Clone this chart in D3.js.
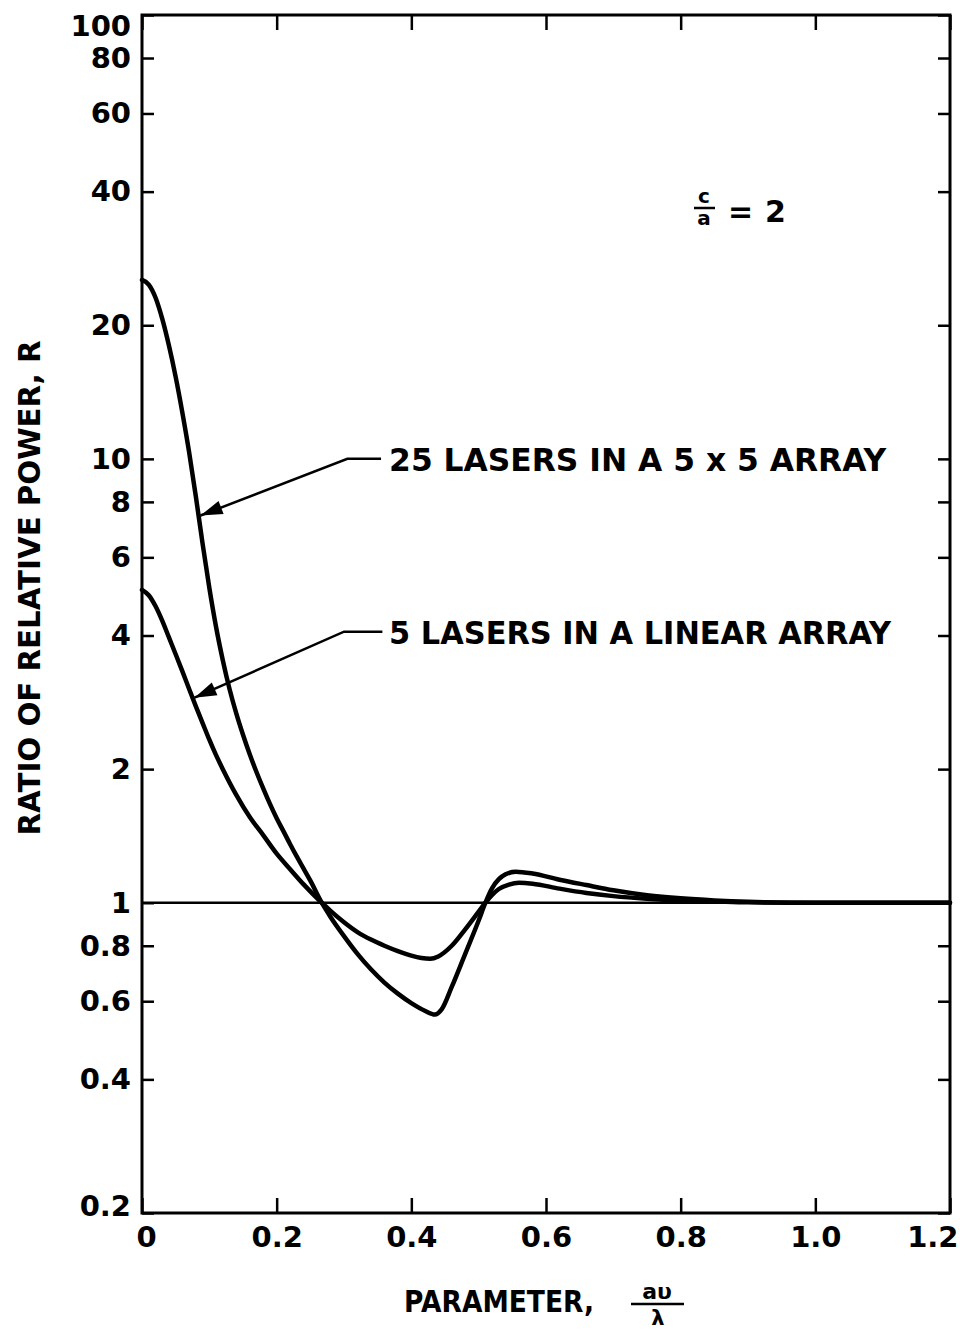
<!DOCTYPE html>
<html><head><meta charset="utf-8">
<script src="https://cdn.jsdelivr.net/npm/d3@7"></script>
<style>body{margin:0;background:#fff}text{font-family:"DejaVu Sans",sans-serif;font-weight:bold;fill:#000}</style>
</head><body>
<svg id="c" width="960" height="1333"></svg>
<script>
// ---- data ----
const xTicks = [0, 0.2, 0.4, 0.6, 0.8, 1.0, 1.2];
const xTickLabels = ["0", "0.2", "0.4", "0.6", "0.8", "1.0", "1.2"];
const yTicks = [0.2, 0.4, 0.6, 0.8, 1, 2, 4, 6, 8, 10, 20, 40, 60, 80, 100];
const yTickLabels = ["0.2", "0.4", "0.6", "0.8", "1", "2", "4", "6", "8", "10", "20", "40", "60", "80", "100"];

// 25 lasers in a 5 x 5 array
const x25 = [0, 0.01, 0.02, 0.03, 0.04, 0.05, 0.06, 0.07, 0.08, 0.09, 0.10, 0.11, 0.12, 0.13, 0.14, 0.15, 0.16, 0.17, 0.18, 0.19, 0.20, 0.21, 0.22, 0.23, 0.24, 0.25, 0.267, 0.28, 0.30, 0.32, 0.34, 0.36, 0.38, 0.40, 0.42, 0.435, 0.445, 0.46, 0.48, 0.50, 0.51, 0.52, 0.53, 0.54, 0.555, 0.58, 0.62, 0.66, 0.70, 0.75, 0.80, 0.85, 0.90, 1.0, 1.2];
const r25 = [25.3, 24.7, 23.1, 20.7, 18.0, 15.3, 12.7, 10.35, 8.22, 6.44, 5.12, 4.18, 3.52, 3.03, 2.67, 2.39, 2.16, 1.97, 1.81, 1.67, 1.55, 1.45, 1.355, 1.27, 1.194, 1.122, 1.0, 0.929, 0.841, 0.767, 0.708, 0.661, 0.624, 0.594, 0.571, 0.560, 0.575, 0.646, 0.767, 0.912, 1.0, 1.079, 1.130, 1.159, 1.175, 1.164, 1.127, 1.096, 1.067, 1.040, 1.023, 1.012, 1.005, 1.0, 1.0];

// 5 lasers in a linear array
const x5 = [0, 0.01, 0.02, 0.03, 0.04, 0.05, 0.06, 0.07, 0.08, 0.09, 0.10, 0.11, 0.12, 0.14, 0.16, 0.18, 0.20, 0.22, 0.24, 0.267, 0.28, 0.30, 0.32, 0.34, 0.36, 0.38, 0.40, 0.415, 0.428, 0.44, 0.46, 0.48, 0.50, 0.51, 0.52, 0.53, 0.545, 0.56, 0.58, 0.62, 0.66, 0.70, 0.75, 0.80, 0.85, 0.90, 1.0, 1.2];
const r5 = [5.07, 4.93, 4.66, 4.32, 3.96, 3.63, 3.32, 3.03, 2.77, 2.54, 2.33, 2.15, 2.0, 1.75, 1.56, 1.42, 1.29, 1.19, 1.10, 1.0, 0.959, 0.904, 0.859, 0.826, 0.800, 0.778, 0.760, 0.751, 0.748, 0.757, 0.800, 0.871, 0.955, 1.0, 1.042, 1.074, 1.099, 1.109, 1.104, 1.076, 1.052, 1.035, 1.021, 1.012, 1.007, 1.002, 1.0, 1.0];

const seriesNames = ["25 LASERS IN A 5 x 5 ARRAY", "5 LASERS IN A LINEAR ARRAY"];
const yTitle = "RATIO OF RELATIVE POWER, R";
const xTitle = "PARAMETER,";

// ---- layout ----
const L = 142, R = 950, T = 15, B = 1213;
const svg = d3.select("#c");
const x = d3.scaleLinear().domain([0, 1.2]).range([L, R]);
const y = d3.scaleLog().domain([0.2, 100]).range([B, T]);

// axes
const fmtX = d => xTickLabels[xTicks.indexOf(d)];
const fmtY = d => yTickLabels[yTicks.indexOf(d)];
const gL = svg.append("g").attr("transform", `translate(${L},0)`)
  .call(d3.axisLeft(y).tickValues(yTicks).tickFormat(fmtY).tickSize(-12).tickPadding(11));
const gR = svg.append("g").attr("transform", `translate(${R},0)`)
  .call(d3.axisRight(y).tickValues(yTicks).tickFormat("").tickSize(-12));
const gB = svg.append("g").attr("transform", `translate(0,${B})`)
  .call(d3.axisBottom(x).tickValues(xTicks).tickFormat(fmtX).tickSize(-15).tickPadding(13));
const gT = svg.append("g").attr("transform", `translate(0,${T})`)
  .call(d3.axisTop(x).tickValues(xTicks).tickFormat("").tickSize(-15));
[gL, gR, gB, gT].forEach(g => {
  g.select(".domain").remove();
  g.selectAll(".tick line").attr("stroke", "#000").attr("stroke-width", 2.5);
  g.selectAll("text").attr("font-size", 29).attr("font-family", "DejaVu Sans").attr("font-weight", "bold").attr("fill", "#000");
});
gL.selectAll(".tick text").filter(d => d === 100).attr("dy", "0.7em");
gL.selectAll(".tick text").filter(d => d === 0.2).attr("dy", "0.1em");
gB.selectAll(".tick text").filter(d => d === 1.2).attr("text-anchor", "end").attr("dx", 8);
gB.selectAll(".tick text").filter(d => d === 0).attr("dx", 4);

// frame
svg.append("rect").attr("x", L).attr("y", T).attr("width", R - L).attr("height", B - T)
  .attr("fill", "none").attr("stroke", "#000").attr("stroke-width", 3);

// reference line R = 1
svg.append("line").attr("x1", x(0)).attr("x2", x(1.2)).attr("y1", y(1)).attr("y2", y(1))
  .attr("stroke", "#000").attr("stroke-width", 2.5);

// curves
const line = d3.line().x(d => x(d[0])).y(d => y(d[1])).curve(d3.curveMonotoneX);
const s25 = x25.map((v, i) => [v, r25[i]]);
const s5 = x5.map((v, i) => [v, r5[i]]);
[s25, s5].forEach(s => {
  svg.append("path").datum(s).attr("d", line).attr("fill", "none")
    .attr("stroke", "#000").attr("stroke-width", 4.5).attr("stroke-linejoin", "round").attr("stroke-linecap", "round");
});

// annotations with leader arrows
function valAt(xs, rs, xv) {
  for (let i = 1; i < xs.length; i++) if (xv <= xs[i]) {
    const t = (xv - xs[i - 1]) / (xs[i] - xs[i - 1]);
    return Math.exp(Math.log(rs[i - 1]) + t * (Math.log(rs[i]) - Math.log(rs[i - 1])));
  }
  return rs[rs.length - 1];
}
const ann = [
  {name: seriesNames[0], tipX: 0.084, xs: x25, rs: r25, elbowX: 0.305, lvl: 10, endX: 0.355, textX: 0.367, width: 497},
  {name: seriesNames[1], tipX: 0.075, xs: x5, rs: r5, elbowX: 0.30, lvl: 4.08, endX: 0.357, textX: 0.367, width: 502}
];
ann.forEach(a => {
  const tx = x(a.tipX) + 2, ty = y(valAt(a.xs, a.rs, a.tipX));
  const ex = x(a.elbowX), ey = y(a.lvl);
  svg.append("polyline").attr("points", `${tx},${ty} ${ex},${ey} ${x(a.endX)},${ey}`)
    .attr("fill", "none").attr("stroke", "#000").attr("stroke-width", 2.5);
  const ang = Math.atan2(ey - ty, ex - tx);
  const len = 22, hw = 7;
  const bx = tx + len * Math.cos(ang), by = ty + len * Math.sin(ang);
  const px = -Math.sin(ang) * hw, py = Math.cos(ang) * hw;
  svg.append("path").attr("d", `M${tx},${ty}L${bx + px},${by + py}L${bx - px},${by - py}Z`).attr("fill", "#000");
  svg.append("text").attr("x", x(a.textX)).attr("y", ey + 12).attr("font-size", 32)
    .style("font-weight", "600")
    .attr("textLength", a.width).attr("lengthAdjust", "spacingAndGlyphs").text(a.name);
});

// c/a = 2
svg.append("text").attr("x", 704).attr("y", 203).attr("font-size", 20).attr("text-anchor", "middle").text("c");
svg.append("line").attr("x1", 694).attr("x2", 715).attr("y1", 208).attr("y2", 208).attr("stroke", "#000").attr("stroke-width", 2.5);
svg.append("text").attr("x", 704).attr("y", 225).attr("font-size", 20).attr("text-anchor", "middle").text("a");
svg.append("text").attr("x", 728).attr("y", 222).attr("font-size", 30).style("font-weight", "600").text("=");
svg.append("text").attr("x", 765).attr("y", 222).attr("font-size", 30).text("2");

// y title
svg.append("text").attr("transform", "translate(40,588) rotate(-90)").attr("text-anchor", "middle")
  .attr("font-size", 30).attr("textLength", 495).attr("lengthAdjust", "spacingAndGlyphs").text(yTitle);

// x title with fraction aυ / λ
svg.append("text").attr("x", 404).attr("y", 1312).attr("font-size", 30)
  .attr("textLength", 190).attr("lengthAdjust", "spacingAndGlyphs").text(xTitle);
svg.append("text").attr("x", 657).attr("y", 1299).attr("font-size", 22).attr("text-anchor", "middle").text("aυ");
svg.append("line").attr("x1", 631).attr("x2", 684).attr("y1", 1304).attr("y2", 1304).attr("stroke", "#000").attr("stroke-width", 2.5);
svg.append("text").attr("x", 658).attr("y", 1325).attr("font-size", 21).attr("text-anchor", "middle").text("λ");
</script>
</body></html>
